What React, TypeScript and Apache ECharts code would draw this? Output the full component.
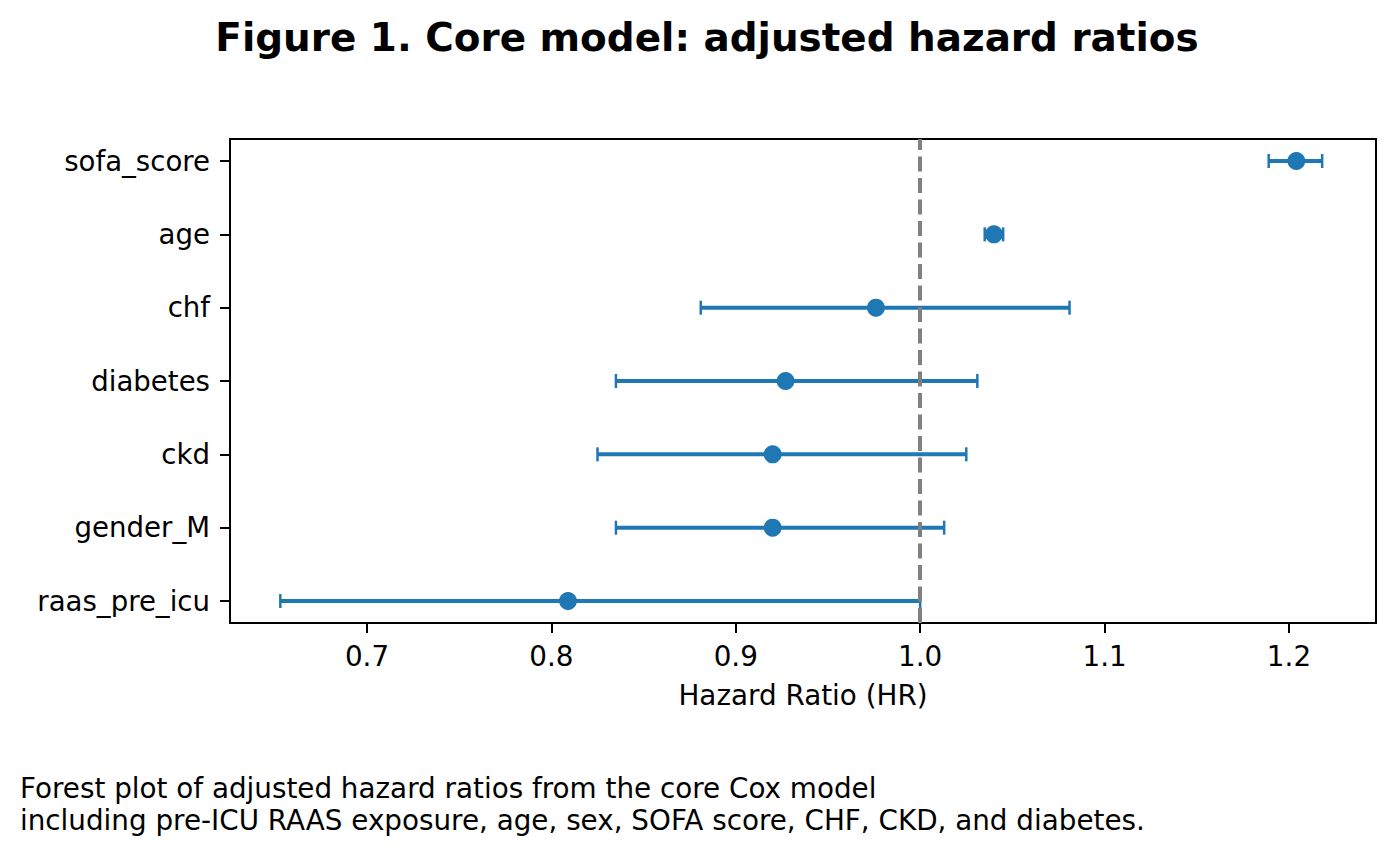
import React, { useEffect, useRef } from "react";
import * as echarts from "echarts";

const categories = ["raas_pre_icu", "gender_M", "ckd", "diabetes", "chf", "age", "sofa_score"];
const hr = [0.809, 0.92, 0.92, 0.927, 0.976, 1.04, 1.204];
const ciLow = [0.653, 0.835, 0.825, 0.835, 0.881, 1.035, 1.189];
const ciHigh = [1.0, 1.013, 1.025, 1.031, 1.081, 1.045, 1.218];
const xTicks = [0.7, 0.8, 0.9, 1.0, 1.1, 1.2];
const refLine = 1.0;
const titleText = "Figure 1. Core model: adjusted hazard ratios";
const xName = "Hazard Ratio (HR)";
const captionLines = [
  "Forest plot of adjusted hazard ratios from the core Cox model",
  "including pre-ICU RAAS exposure, age, sex, SOFA score, CHF, CKD, and diabetes.",
];

const FONT = "DejaVu Sans";
const BLUE = "#1f77b4";

export default function App() {
  const ref = useRef<HTMLDivElement>(null);
  useEffect(() => {
    if (!ref.current) return;
    const chart = echarts.init(ref.current, null, { renderer: "svg" });
    const yTicks = categories.map((_, i) => i);
    const errData = categories.map((_, i) => [ciLow[i], ciHigh[i], i]);
    const ptData = categories.map((_, i) => [hr[i], i]);
    chart.setOption({
      animation: false,
      textStyle: { fontFamily: FONT },
      title: {
        text: titleText,
        left: 702,
        textAlign: "center",
        top: 13,
        textStyle: { fontFamily: FONT, fontSize: 38.9, fontWeight: "bold", color: "#000" },
      },
      grid: {
        left: 230,
        top: 139,
        width: 1146,
        height: 484,
        show: true,
        borderColor: "#000",
        borderWidth: 2,
        backgroundColor: "transparent",
      },
      xAxis: {
        type: "value",
        min: 0.6257,
        max: 1.2472,
        name: xName,
        nameLocation: "middle",
        nameGap: 58,
        nameTextStyle: { fontFamily: FONT, fontSize: 27.8, color: "#000" },
        splitLine: { show: false },
        axisLine: { show: true, onZero: false, lineStyle: { color: "#000", width: 2 } },
        axisTick: { show: true, length: 10, lineStyle: { color: "#000", width: 2 }, customValues: xTicks },
        axisLabel: {
          customValues: xTicks,
          margin: 19,
          fontFamily: FONT,
          fontSize: 27.8,
          color: "#000",
          formatter: (v: number) => v.toFixed(1),
        },
      },
      yAxis: {
        type: "value",
        min: -0.3,
        max: 6.3,
        splitLine: { show: false },
        axisLine: { show: true, onZero: false, lineStyle: { color: "#000", width: 2 } },
        axisTick: { show: true, length: 10, lineStyle: { color: "#000", width: 2 }, customValues: yTicks },
        axisLabel: {
          customValues: yTicks,
          margin: 20,
          fontFamily: FONT,
          fontSize: 27.6,
          color: "#000",
          formatter: (v: number) => categories[Math.round(v)] ?? "",
        },
      },
      graphic: [
        {
          type: "text",
          left: 20,
          top: 772,
          style: {
            text: captionLines.join("\n"),
            fontFamily: FONT,
            fontSize: 27.8,
            lineHeight: 32,
            fill: "#000",
          },
        },
      ],
      series: [
        {
          type: "custom",
          z: 2,
          data: errData,
          encode: { x: [0, 1], y: 2 },
          renderItem: (params: any, api: any) => {
            const lo = api.coord([api.value(0), api.value(2)]);
            const hi = api.coord([api.value(1), api.value(2)]);
            const cap = 7;
            return {
              type: "group",
              children: [
                {
                  type: "line",
                  shape: { x1: lo[0], y1: lo[1], x2: hi[0], y2: hi[1] },
                  style: { stroke: BLUE, lineWidth: 4 },
                },
                {
                  type: "line",
                  shape: { x1: lo[0], y1: lo[1] - cap, x2: lo[0], y2: lo[1] + cap },
                  style: { stroke: BLUE, lineWidth: 2.5 },
                },
                {
                  type: "line",
                  shape: { x1: hi[0], y1: hi[1] - cap, x2: hi[0], y2: hi[1] + cap },
                  style: { stroke: BLUE, lineWidth: 2.5 },
                },
              ],
            };
          },
        },
        {
          type: "line",
          z: 3,
          data: [],
          markLine: {
            silent: true,
            symbol: "none",
            label: { show: false },
            lineStyle: { color: "#808080", width: 4, type: [15, 6.5] },
            data: [{ xAxis: refLine }],
          },
        },
        {
          type: "scatter",
          z: 4,
          data: ptData,
          symbol: "circle",
          symbolSize: 18,
          itemStyle: { color: BLUE, opacity: 1 },
        },
      ],
    });
    return () => chart.dispose();
  }, []);
  return (
    <div
      ref={ref}
      style={{ position: "absolute", left: 0, top: 0, width: 1395, height: 856, background: "#fff" }}
    />
  );
}
